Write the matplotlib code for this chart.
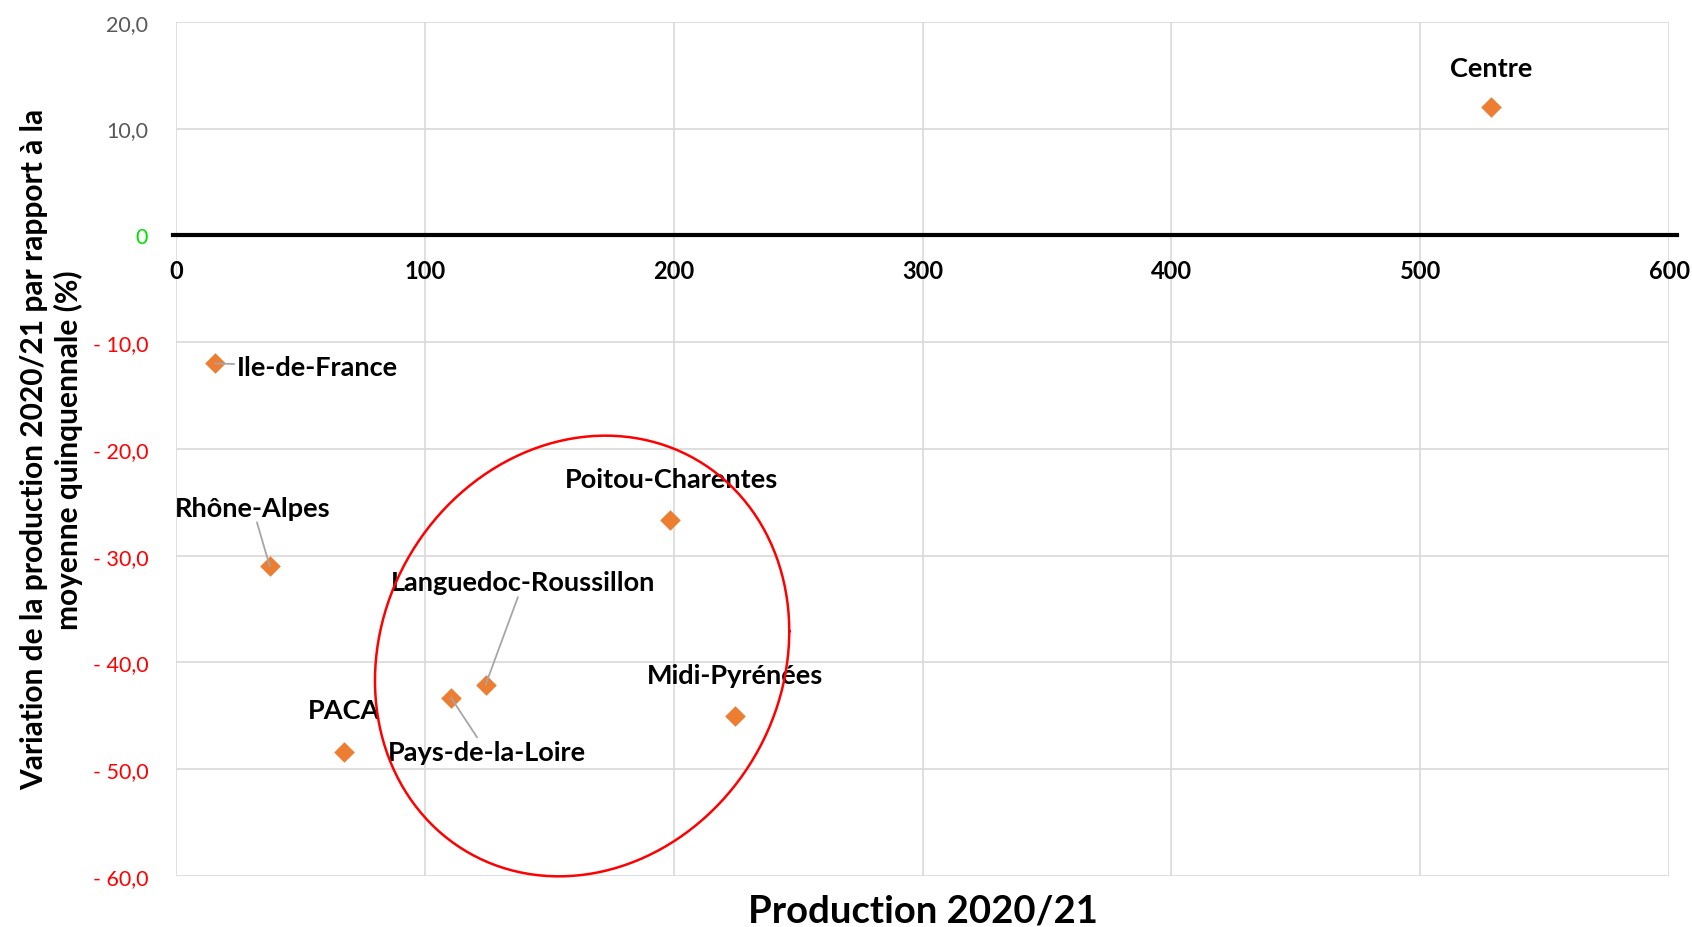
import numpy as np
import matplotlib
matplotlib.use("Agg")
import matplotlib.pyplot as plt

plt.rcParams['font.family'] = ['Lato', 'DejaVu Sans']

# regions: production 2020/21 vs variation to 5-year average (%)
regions = ['Centre', 'Ile-de-France', 'Rhône-Alpes', 'PACA', 'Pays-de-la-Loire',
           'Languedoc-Roussillon', 'Poitou-Charentes', 'Midi-Pyrénées']
production = [528.5, 15.6, 37.7, 67.6, 110.5, 124.4, 198.6, 224.6]
variation = [12.0, -12.0, -31.0, -48.4, -43.3, -42.1, -26.7, -45.0]

# where each label sits, and whether a leader line is drawn
label_x = [528.5, 24.5, 30.8, 67.6, 124.9, 139.6, 199.0, 224.6]
label_y = [15.7, -12.3, -25.5, -44.5, -48.4, -32.5, -22.8, -41.2]
label_ha = ['center', 'left', 'center', 'center', 'center', 'center', 'center', 'center']
leader = [False, True, True, False, True, True, False, False]

x_ticks = [0, 100, 200, 300, 400, 500, 600]
y_ticks = [20, 10, 0, -10, -20, -30, -40, -50, -60]
y_tick_labels = ['20,0', '10,0', '0', '- 10,0', '- 20,0', '- 30,0', '- 40,0', '- 50,0', '- 60,0']

fig = plt.figure(figsize=(16.92, 9.28), dpi=100)
ax = fig.add_axes([0.104, 0.055, 0.8825, 0.9205])

ax.set_xlim(0, 600)
ax.set_ylim(-60, 20)
ax.set_xticks(x_ticks)
ax.set_yticks(y_ticks)
ax.set_yticklabels(y_tick_labels)
ax.grid(True, color='#d9d9d9', lw=1.2, zorder=0)
ax.set_axisbelow(True)

for s in ['top', 'right', 'left']:
    ax.spines[s].set_visible(False)
ax.spines['bottom'].set_position(('data', 0))
ax.spines['bottom'].set_visible(False)
ax.axhline(0, xmin=-0.002, xmax=1.005, color='black', lw=3, clip_on=False, zorder=2)

ax.tick_params(axis='both', length=0)
ax.tick_params(axis='x', pad=17, labelsize=17)
ax.tick_params(axis='y', pad=20, labelsize=15.5)
for lbl in ax.get_xticklabels():
    lbl.set_fontweight('bold')
for lbl, v in zip(ax.get_yticklabels(), y_ticks):
    if v > 0:
        lbl.set_color('#595959')
    elif v == 0:
        lbl.set_color('#00e000')
    else:
        lbl.set_color('red')

ax.scatter(production, variation, marker='D', s=110, color='#ed7d31', zorder=3, linewidths=0)

for i, name in enumerate(regions):
    if leader[i]:
        ax.annotate(name, xy=(production[i], variation[i]), xytext=(label_x[i], label_y[i]),
                    ha=label_ha[i], va='center', fontsize=19.5, fontweight='bold', zorder=4,
                    arrowprops=dict(arrowstyle='-', color='#a6a6a6', lw=1.3, shrinkA=0, shrinkB=0))
    else:
        ax.text(label_x[i], label_y[i], name, ha=label_ha[i], va='center',
                fontsize=19.5, fontweight='bold', zorder=4)

# red ellipse around the central group (drawn in pixel space, converted to data)
px_x = 1384 / 600.0
px_y = 792 / 80.0
cx, cy = 163.2, -39.4
t = np.linspace(0, 2 * np.pi, 300)
u = (192.0, 23.0)
v = (0.0, 203.0)
ex = cx + (u[0] * np.cos(t) + v[0] * np.sin(t)) / px_x
ey = cy + (u[1] * np.cos(t) + v[1] * np.sin(t)) / px_y
ax.plot(ex, ey, color='red', lw=1.8, zorder=5, clip_on=False)

ax.set_xlabel('Production 2020/21', fontsize=27.5, fontweight='bold')
ax.xaxis.set_label_coords(0.5, -0.041)
ax.xaxis.label.set_va('center')
ax.set_ylabel('Variation de la production 2020/21 par rapport à la\nmoyenne quinquennale (%)',
              fontsize=21.5, fontweight='bold', linespacing=1.25)
ax.yaxis.set_label_coords(-0.0835, 0.5)
ax.yaxis.label.set_va('center')

fig.savefig('out.png', dpi=100)
